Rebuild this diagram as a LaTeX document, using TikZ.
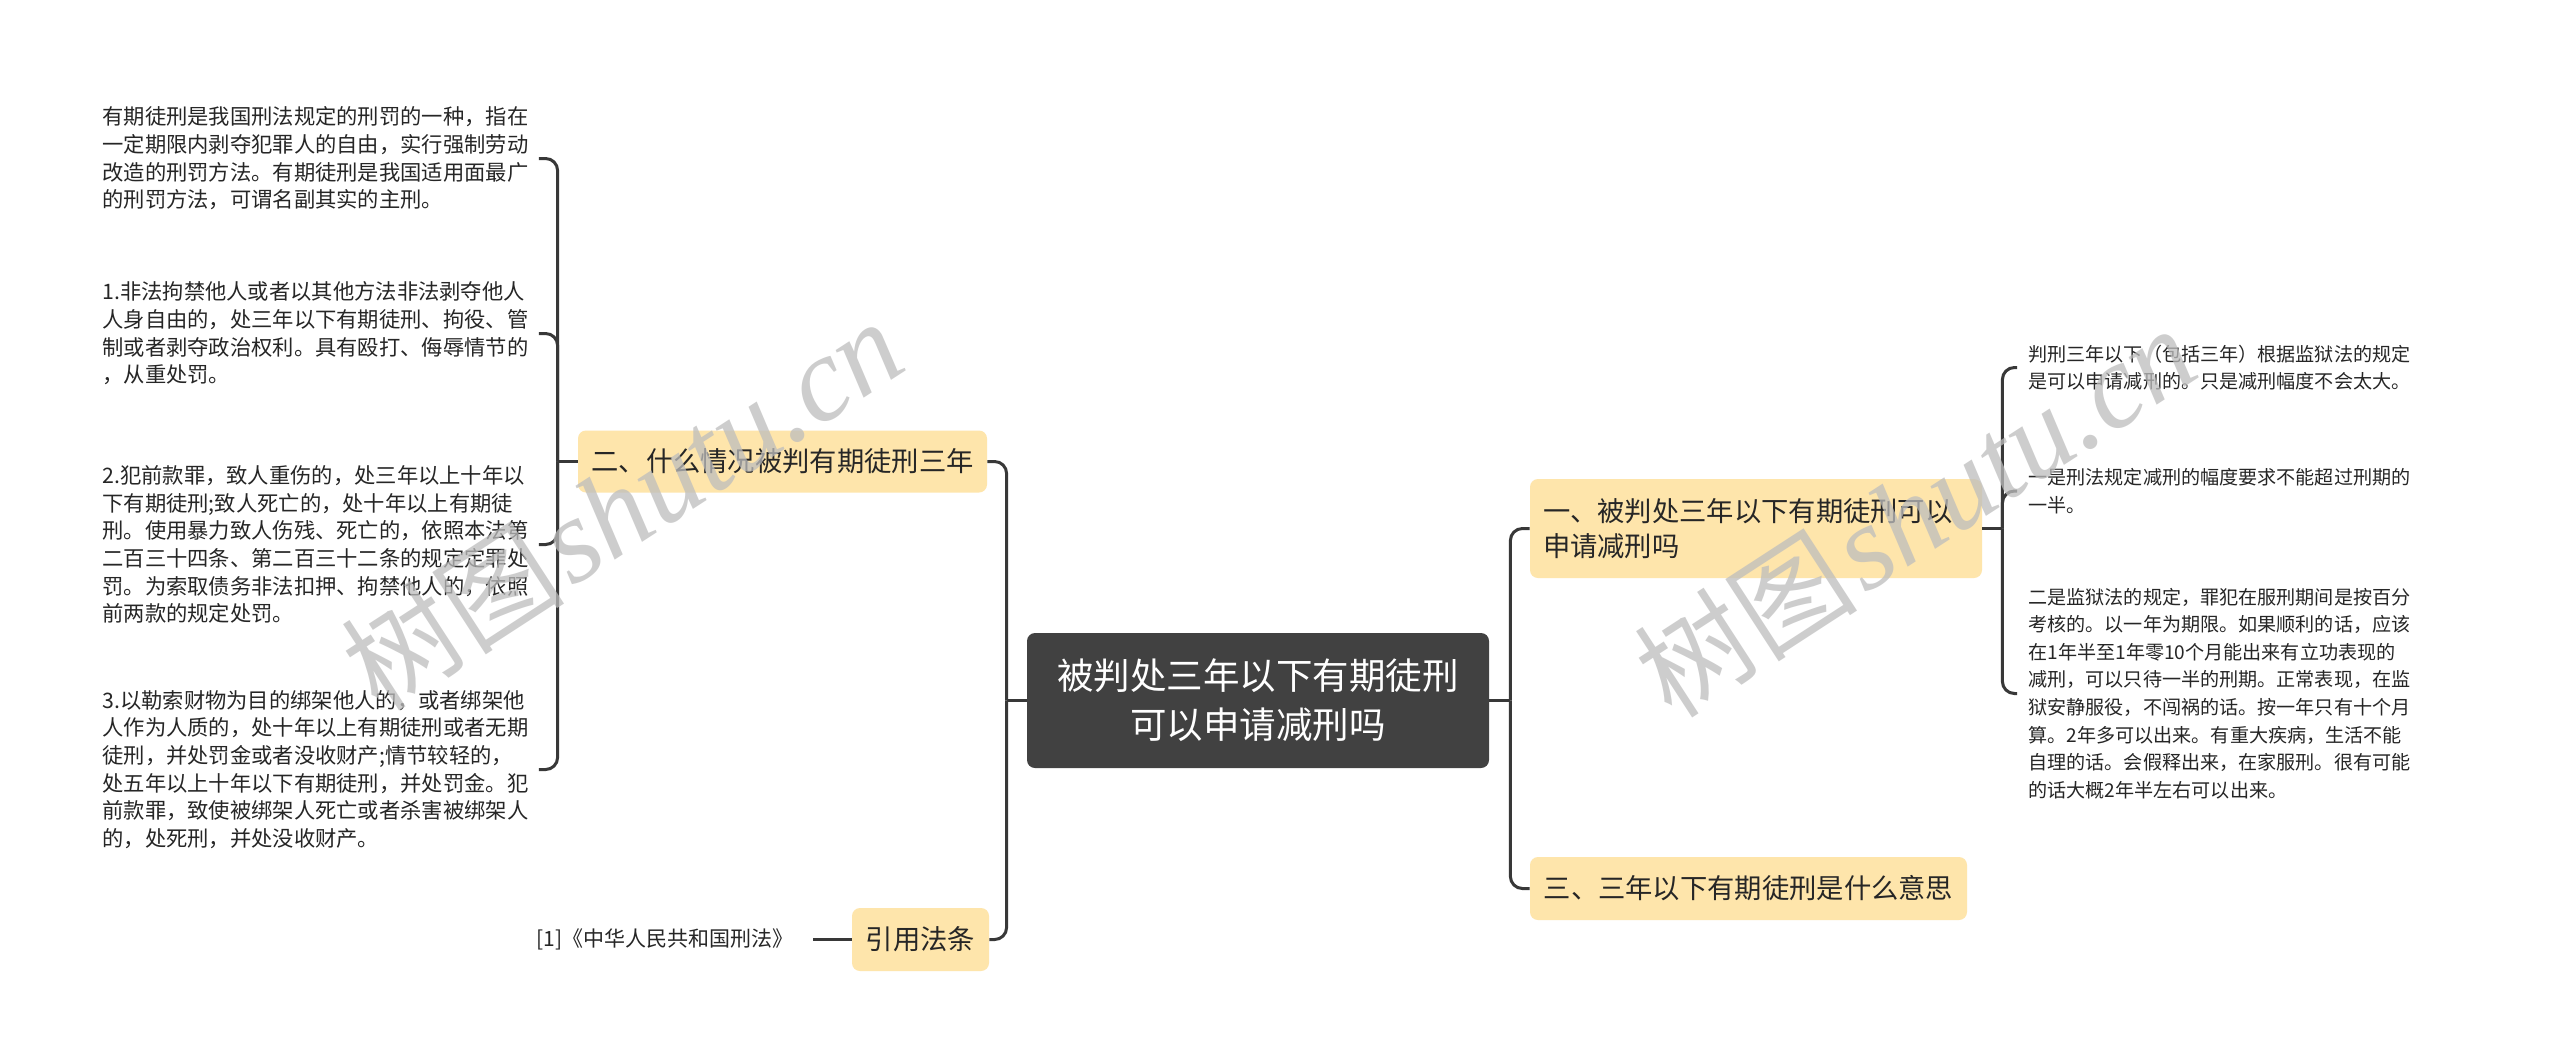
\documentclass[tikz,border=0pt]{standalone}
\usepackage{fontspec}
\newfontfamily\cjk{Noto Sans CJK SC}
\newfontfamily\wmserif{Liberation Serif}
\definecolor{nodefill}{HTML}{FEE5AB}
\definecolor{rootfill}{HTML}{414141}
\definecolor{linec}{HTML}{383838}
\definecolor{txtc}{HTML}{262626}
\definecolor{wmgray}{HTML}{BDBDBD}
\begin{document}
\begin{tikzpicture}[x=0.5pt,y=-0.5pt,
  conn/.style={draw=linec, line width=1.5pt, rounded corners=6pt},
  stub/.style={draw=linec, line width=1.5pt},
  rootbox/.style={fill=rootfill, rounded corners=4pt, text=white, align=center,
    font=\cjk\fontsize{18.25}{24.5}\selectfont, inner sep=0pt},
  branch/.style={fill=nodefill, rounded corners=4pt, inner xsep=6.5pt, inner ysep=0pt,
    align=left, text=txtc, font=\cjk\fontsize{13.65}{17.5}\selectfont},
  ltext/.style={inner xsep=5pt, inner ysep=0pt, text width=213pt, align=left, text=txtc,
    font=\cjk\fontsize{10.65}{13.85}\selectfont},
  rtext/.style={inner xsep=5.5pt, inner ysep=0pt, text width=191pt, align=left, text=txtc,
    font=\cjk\fontsize{9.55}{13.8}\selectfont},
  wmark/.style={rotate=33, text=wmgray, opacity=0.75, inner sep=0pt}
]
\useasboundingbox (0,0) rectangle (2560,1061);
\fill[white] (0,0) rectangle (2560,1061);

% central
\node[rootbox, minimum width=231pt, minimum height=67.5pt] (root) at (1258,700.5)
  {被判处三年以下有期徒刑\\可以申请减刑吗};

% main branches
\node[branch, minimum width=204.5pt, minimum height=31pt] (n2) at (782.5,461.5)
  {二、什么情况被判有期徒刑三年};
\node[branch, minimum width=68.5pt, minimum height=31.5pt] (cite) at (920.5,939.5)
  {引用法条};
\node[branch, text width=213pt, minimum height=49.5pt] (n1) at (1756,528.5)
  {一、被判处三年以下有期徒刑可以\\申请减刑吗};
\node[branch, minimum width=218.5pt, minimum height=31.5pt] (n3) at (1748.5,888.5)
  {三、三年以下有期徒刑是什么意思};

% left texts
\node[ltext, anchor=west] (tA) at (92,158.5)
  {有期徒刑是我国刑法规定的刑罚的一种，指在\\一定期限内剥夺犯罪人的自由，实行强制劳动\\改造的刑罚方法。有期徒刑是我国适用面最广\\的刑罚方法，可谓名副其实的主刑。};
\node[ltext, anchor=west] (tB) at (92,333.5)
  {1.非法拘禁他人或者以其他方法非法剥夺他人\\人身自由的，处三年以下有期徒刑、拘役、管\\制或者剥夺政治权利。具有殴打、侮辱情节的\\，从重处罚。};
\node[ltext, anchor=west] (tC) at (92,544.5)
  {2.犯前款罪，致人重伤的，处三年以上十年以\\下有期徒刑;致人死亡的，处十年以上有期徒\\刑。使用暴力致人伤残、死亡的，依照本法第\\二百三十四条、第二百三十二条的规定定罪处\\罚。为索取债务非法扣押、拘禁他人的，依照\\前两款的规定处罚。};
\node[ltext, anchor=west] (tD) at (92,769.5)
  {3.以勒索财物为目的绑架他人的，或者绑架他\\人作为人质的，处十年以上有期徒刑或者无期\\徒刑，并处罚金或者没收财产;情节较轻的，\\处五年以上十年以下有期徒刑，并处罚金。犯\\前款罪，致使被绑架人死亡或者杀害被绑架人\\的，处死刑，并处没收财产。};
\node[anchor=east, inner xsep=9.5pt, inner ysep=0pt, text=txtc, font=\cjk\fontsize{10.5}{13}\selectfont]
  (ref) at (813,939.5) {[1]《中华人民共和国刑法》};

% right texts
\node[rtext, anchor=west] (r1) at (2017,367.5)
  {判刑三年以下（包括三年）根据监狱法的规定\\是可以申请减刑的。只是减刑幅度不会太大。};
\node[rtext, anchor=west] (r2) at (2017,491)
  {一是刑法规定减刑的幅度要求不能超过刑期的\\一半。};
\node[rtext, anchor=west] (r3) at (2017,693.5)
  {二是监狱法的规定，罪犯在服刑期间是按百分\\考核的。以一年为期限。如果顺利的话，应该\\在1年半至1年零10个月能出来有立功表现的\\减刑，可以只待一半的刑期。正常表现，在监\\狱安静服役，不闯祸的话。按一年只有十个月\\算。2年多可以出来。有重大疾病，生活不能\\自理的话。会假释出来，在家服刑。很有可能\\的话大概2年半左右可以出来。};

% connectors: root
\draw[stub] (root.west) -- ++(-20,0) coordinate (ls);
\draw[conn] (ls) |- (n2.east);
\draw[conn] (ls) |- (cite.east);
\draw[stub] (root.east) -- ++(21,0) coordinate (rs);
\draw[conn] (rs) |- (n1.west);
\draw[conn] (rs) |- (n3.west);

% connectors: n2
\draw[stub] (n2.west) -- ++(-20,0) coordinate (l2);
\draw[conn] (l2) |- (tA.east);
\draw[conn] (l2) |- (tB.east);
\draw[conn] (l2) |- (tC.east);
\draw[conn] (l2) |- (tD.east);

% connectors: n1
\draw[stub] (n1.east) -- ++(20,0) coordinate (r1s);
\draw[conn] (r1s) |- (r1.west);
\draw[conn] (r1s) |- (r2.west);
\draw[conn] (r1s) |- (r3.west);

% citation
\draw[stub] (cite.west) -- (ref.east);

% watermarks
\node[wmark] (wm1) at (622,505) {{\cjk\fontsize{56}{56}\selectfont 树图} {\wmserif\itshape\fontsize{60}{60}\selectfont shutu.cn}};
\node[wmark] (wm2) at (1915,512) {{\cjk\fontsize{56}{56}\selectfont 树图} {\wmserif\itshape\fontsize{60}{60}\selectfont shutu.cn}};
\end{tikzpicture}
\end{document}
